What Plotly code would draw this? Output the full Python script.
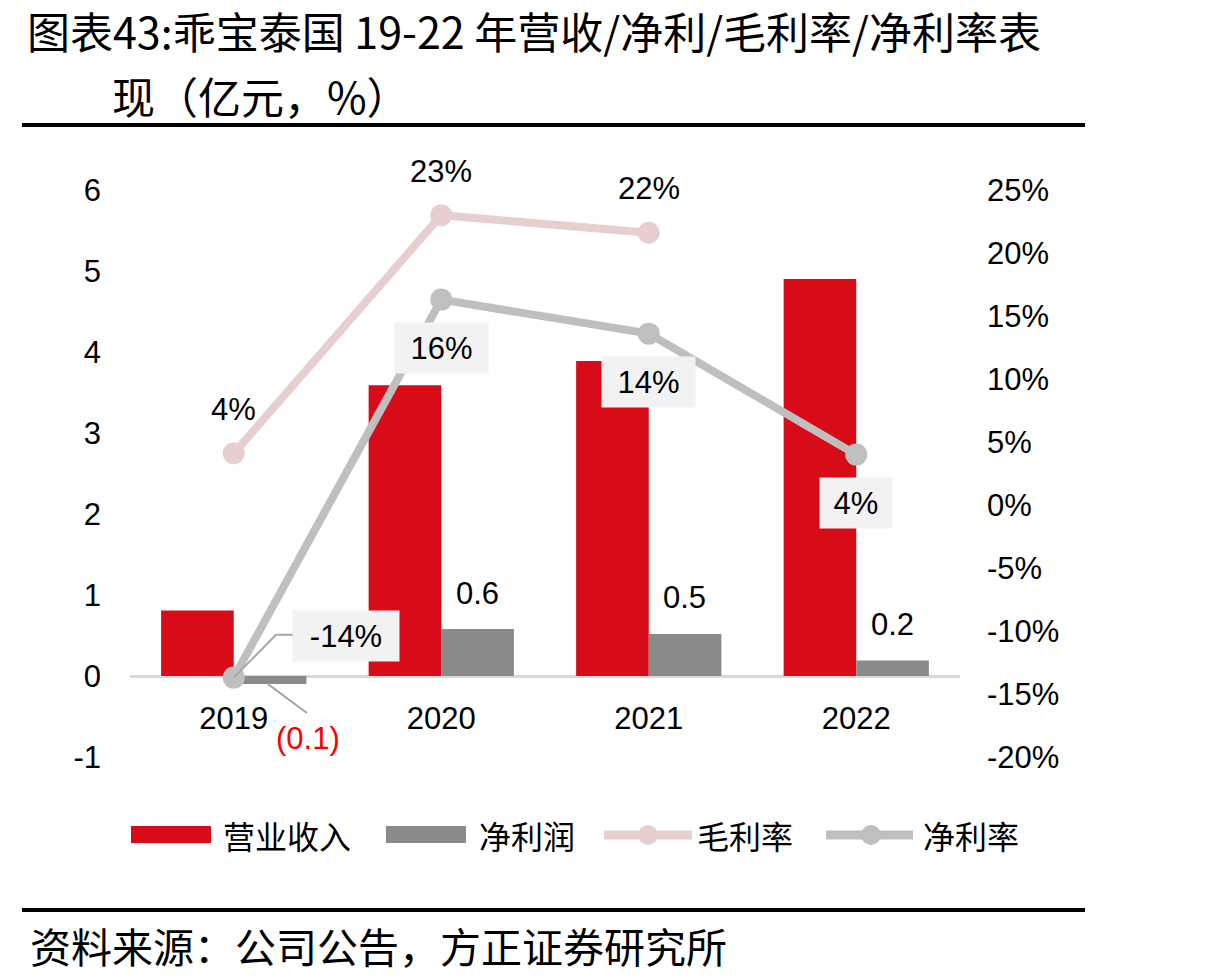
import plotly.graph_objects as go

# ---------------- data ----------------
years = ["2019", "2020", "2021", "2022"]
revenue = [0.81, 3.59, 3.89, 4.90]          # 营业收入 (亿元)
net_profit = [-0.10, 0.58, 0.52, 0.19]      # 净利润 (亿元)
gross_margin = [0.041, 0.230, 0.216, None]  # 毛利率
net_margin = [-0.137, 0.163, 0.136, 0.040]  # 净利率

left_tickvals = [-1, 0, 1, 2, 3, 4, 5, 6]
left_ticktext = ["-1", "0", "1", "2", "3", "4", "5", "6"]
right_tickvals = [-0.20, -0.15, -0.10, -0.05, 0.0, 0.05, 0.10, 0.15, 0.20, 0.25]
right_ticktext = ["-20%", "-15%", "-10%", "-5%", "0%", "5%", "10%", "15%", "20%", "25%"]

title_line1 = "图表43:乖宝泰国 19-22 年营收/净利/毛利率/净利率表"
title_line2 = "现（亿元，%）"
source_text = "资料来源：公司公告，方正证券研究所"
legend_names = ["营业收入", "净利润", "毛利率", "净利率"]

# ---------------- style ----------------
RED = "#D80C19"
GRAY_BAR = "#8A8A8A"
PINK = "#E8CFCF"
GRAY_LINE = "#BFBFBF"
LEADER = "#A6A6A6"
LATIN = "Liberation Sans, Arial, sans-serif"
CJK = "Noto Sans CJK SC, sans-serif"

W, H = 1213, 980
ML, MR, MT, MB = 130, 253, 190, 223
PW, PH = W - ML - MR, H - MT - MB


def px(x):
    return (x - ML) / PW


def py(y):
    return (H - MB - y) / PH


fig = go.Figure()
fig.add_trace(go.Bar(x=years, y=revenue, name=legend_names[0], marker_color=RED,
                     marker_line_width=0, showlegend=False))
fig.add_trace(go.Bar(x=years, y=net_profit, name=legend_names[1], marker_color=GRAY_BAR,
                     marker_line_width=0, showlegend=False))
fig.add_trace(go.Scatter(x=years, y=gross_margin, name=legend_names[2], yaxis="y2",
                         mode="lines+markers", line=dict(color=PINK, width=8),
                         marker=dict(color=PINK, size=22), showlegend=False))
fig.add_trace(go.Scatter(x=years, y=net_margin, name=legend_names[3], yaxis="y2",
                         mode="lines+markers", line=dict(color=GRAY_LINE, width=8),
                         marker=dict(color=GRAY_LINE, size=22), showlegend=False))

annotations = []
shapes = []

# gross margin labels (above points); x given as category index
for i, v in enumerate(gross_margin):
    if v is None:
        continue
    annotations.append(dict(x=i, y=v, xref="x", yref="y2", text=f"{round(v*100):.0f}%",
                            showarrow=False, yshift=44,
                            font=dict(family=LATIN, size=31, color="#000000")))

# net margin labels (boxed, below points)
for i, v in enumerate(net_margin):
    txt = f"{round(v*100):.0f}%"
    wbox = 30 + 21 * len(txt) - (8 if "-" in txt else 0)
    if i == 0:
        xs, ys = 112, 42
    else:
        xs, ys = 0, -48
    annotations.append(dict(x=i, y=v, xref="x", yref="y2", text=txt, showarrow=False,
                            xshift=xs, yshift=ys, bgcolor="#F2F2F2", borderpad=0,
                            width=wbox, height=50,
                            font=dict(family=LATIN, size=31, color="#000000")))

# leader line for the 2019 net margin label
nm0 = net_margin[0]
shapes.append(dict(type="line", xref="x", yref="y2", x0=0, y0=nm0, x1=0.204, y1=nm0 + 0.034,
                   line=dict(color=LEADER, width=2)))
shapes.append(dict(type="line", xref="x", yref="y2", x0=0.204, y0=nm0 + 0.034, x1=0.29,
                   y1=nm0 + 0.034, line=dict(color=LEADER, width=2)))

# net profit labels
for i, v in enumerate(net_profit):
    if v < 0:
        annotations.append(dict(x=i, y=v, xref="x", yref="y", text=f"({abs(v):.1f})",
                                showarrow=False, xshift=74, yshift=-54,
                                font=dict(family=LATIN, size=31, color="#FF0000")))
        shapes.append(dict(type="line", xref="x", yref="y", x0=i + 0.165, y0=v, x1=i + 0.353,
                           y1=v - 0.357, line=dict(color=LEADER, width=2)))
    else:
        annotations.append(dict(x=i, y=v, xref="x", yref="y", text=f"{v:.1f}",
                                showarrow=False, xshift=36, yshift=36,
                                font=dict(family=LATIN, size=31, color="#000000")))

# title & source
annotations.append(dict(x=px(25), y=py(30), xref="paper", yref="paper", text=title_line1,
                        showarrow=False, xanchor="left", yanchor="middle",
                        font=dict(family=CJK, size=43, color="#000000")))
annotations.append(dict(x=px(110), y=py(95), xref="paper", yref="paper", text=title_line2,
                        showarrow=False, xanchor="left", yanchor="middle",
                        font=dict(family=CJK, size=43, color="#000000")))
annotations.append(dict(x=px(28), y=py(945), xref="paper", yref="paper", text=source_text,
                        showarrow=False, xanchor="left", yanchor="middle",
                        font=dict(family=CJK, size=41, color="#000000")))

shapes.append(dict(type="line", xref="paper", yref="paper", x0=px(22), x1=px(1085),
                   y0=py(125), y1=py(125), line=dict(color="#000000", width=4)))
shapes.append(dict(type="line", xref="paper", yref="paper", x0=px(22), x1=px(1085),
                   y0=py(910), y1=py(910), line=dict(color="#000000", width=4)))

# custom legend
LY = 835
shapes.append(dict(type="rect", xref="paper", yref="paper", x0=px(131), x1=px(211),
                   y0=py(843), y1=py(826), fillcolor=RED, line_width=0))
shapes.append(dict(type="rect", xref="paper", yref="paper", x0=px(386), x1=px(466),
                   y0=py(843), y1=py(826), fillcolor=GRAY_BAR, line_width=0))
for (xa, xb, xc, col) in [(604, 692, 648, PINK), (826, 913, 871, GRAY_LINE)]:
    shapes.append(dict(type="line", xref="paper", yref="paper", x0=px(xa), x1=px(xb),
                       y0=py(LY), y1=py(LY), line=dict(color=col, width=9)))
    shapes.append(dict(type="circle", xref="paper", yref="paper", x0=px(xc - 10),
                       x1=px(xc + 10), y0=py(LY + 10), y1=py(LY - 10), fillcolor=col,
                       line_width=0))
for name, xl in zip(legend_names, [221, 477, 695, 921]):
    annotations.append(dict(x=px(xl), y=py(LY), xref="paper", yref="paper", text=name,
                            showarrow=False, xanchor="left", yanchor="middle",
                            font=dict(family=CJK, size=32, color="#000000")))

fig.update_layout(
    width=W, height=H, autosize=False,
    margin=dict(l=ML, r=MR, t=MT, b=MB, pad=0),
    paper_bgcolor="#FFFFFF", plot_bgcolor="#FFFFFF",
    barmode="group", bargap=0.3, bargroupgap=0,
    showlegend=False,
    xaxis=dict(type="category", range=[-0.5, 3.5], anchor="free", position=1 / 7,
               showline=True, linecolor="#D9D9D9", linewidth=3, layer="below traces",
               showgrid=False, zeroline=False, ticks="", ticklabelstandoff=14,
               tickfont=dict(family=LATIN, size=31, color="#000000")),
    yaxis=dict(range=[-1, 6], tickvals=left_tickvals, ticktext=left_ticktext,
               showgrid=False, zeroline=False, showline=False, ticks="",
               ticklabelstandoff=28, tickfont=dict(family=LATIN, size=31, color="#000000")),
    yaxis2=dict(range=[-0.20, 0.25], overlaying="y", side="right", anchor="x",
                tickvals=right_tickvals, ticktext=right_ticktext,
                showgrid=False, zeroline=False, showline=False, ticks="",
                ticklabelstandoff=26, tickfont=dict(family=LATIN, size=31, color="#000000")),
    annotations=annotations,
    shapes=shapes,
)

fig.write_html("out.html")
